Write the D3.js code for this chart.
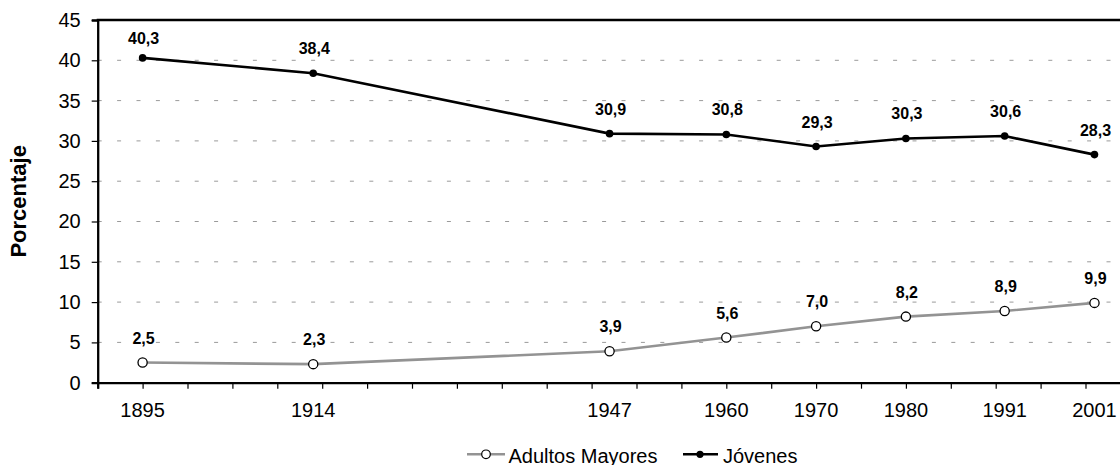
<!DOCTYPE html>
<html>
<head>
<meta charset="utf-8">
<script src="https://d3js.org/d3.v7.min.js"></script>
<style>
  body { margin: 0; background: #fff; }
  text { font-family: "Liberation Sans", Arial, sans-serif; }
</style>
</head>
<body>
<svg id="chart" width="1120" height="465"></svg>
<script>
// data
var years = [1895, 1914, 1947, 1960, 1970, 1980, 1991, 2001];
var jovenes = [40.3, 38.4, 30.9, 30.8, 29.3, 30.3, 30.6, 28.3];
var adultos = [2.5, 2.3, 3.9, 5.6, 7.0, 8.2, 8.9, 9.9];
var yTicks = [0, 5, 10, 15, 20, 25, 30, 35, 40, 45];
var seriesNames = ["Adultos Mayores", "Jóvenes"];

var svg = d3.select("#chart");

var plotLeft = 97.7, plotTop = 20, plotBottom = 382.7;

var x = d3.scaleLinear()
    .domain([1890, 2005])
    .range([plotLeft, 1130.4]);

var y = d3.scaleLinear()
    .domain([0, 45])
    .range([plotBottom, plotTop]);

var fmt = function(v) { return d3.format(".1f")(v).replace(".", ","); };

// dashed grid
svg.append("g")
    .selectAll("line")
    .data(yTicks.filter(function(d) { return d > 0 && d < 45; }))
    .enter()
    .append("line")
    .attr("x1", plotLeft)
    .attr("x2", 1120)
    .attr("y1", function(d) { return y(d); })
    .attr("y2", function(d) { return y(d); })
    .attr("stroke", "#9a9a9a")
    .attr("stroke-width", 1)
    .attr("stroke-dasharray", "4,15.4");

// y axis
var yAxis = svg.append("g")
    .attr("transform", "translate(" + plotLeft + ",0)")
    .call(d3.axisLeft(y).tickValues(yTicks).tickSize(6).tickPadding(11));
yAxis.select(".domain").attr("stroke", "#000").attr("stroke-width", 2.3);
yAxis.selectAll(".tick line").attr("stroke", "#000").attr("stroke-width", 1.2);
yAxis.selectAll("text")
    .attr("font-size", "20px")
    .attr("fill", "#000")
    .style("font-family", "'Liberation Sans', Arial, sans-serif");

// x axis: ticks every 5 years, labels only at census years
var xAxis = svg.append("g")
    .attr("transform", "translate(0," + plotBottom + ")")
    .call(d3.axisBottom(x).tickValues(d3.range(1890, 2006, 5)).tickSize(6).tickFormat(""));
xAxis.select(".domain").attr("stroke", "#000").attr("stroke-width", 2.3);
xAxis.selectAll(".tick line").attr("stroke", "#000").attr("stroke-width", 1.2);

svg.append("g")
    .selectAll("text")
    .data(years)
    .enter()
    .append("text")
    .attr("x", function(d) { return x(d); })
    .attr("y", plotBottom + 34.6)
    .attr("text-anchor", "middle")
    .attr("font-size", "20px")
    .attr("fill", "#000")
    .text(function(d) { return d; });

// top border
svg.append("line")
    .attr("x1", plotLeft - 1)
    .attr("x2", 1120)
    .attr("y1", plotTop)
    .attr("y2", plotTop)
    .attr("stroke", "#000")
    .attr("stroke-width", 2.3);

// y title
svg.append("text")
    .attr("transform", "translate(26," + ((plotTop + plotBottom) / 2) + ") rotate(-90)")
    .attr("text-anchor", "middle")
    .attr("font-size", "22px")
    .attr("font-weight", "bold")
    .attr("fill", "#000")
    .text("Porcentaje");

var line = d3.line()
    .x(function(d, i) { return x(years[i]); })
    .y(function(d) { return y(d); });

// adultos mayores
svg.append("path")
    .datum(adultos)
    .attr("d", line)
    .attr("fill", "none")
    .attr("stroke", "#939393")
    .attr("stroke-width", 2.6);

svg.append("g")
    .selectAll("circle")
    .data(adultos)
    .enter()
    .append("circle")
    .attr("cx", function(d, i) { return x(years[i]); })
    .attr("cy", function(d) { return y(d); })
    .attr("r", 4.6)
    .attr("fill", "#fff")
    .attr("stroke", "#000")
    .attr("stroke-width", 1.3);

// jovenes
svg.append("path")
    .datum(jovenes)
    .attr("d", line)
    .attr("fill", "none")
    .attr("stroke", "#000")
    .attr("stroke-width", 2.6);

svg.append("g")
    .selectAll("circle")
    .data(jovenes)
    .enter()
    .append("circle")
    .attr("cx", function(d, i) { return x(years[i]); })
    .attr("cy", function(d) { return y(d); })
    .attr("r", 3.8)
    .attr("fill", "#000");

// value labels
var addLabels = function(vals) {
  svg.append("g")
    .selectAll("text")
    .data(vals)
    .enter()
    .append("text")
    .attr("x", function(d, i) { return x(years[i]) + 1; })
    .attr("y", function(d) { return Math.max(y(d) - 19, plotTop + 24); })
    .attr("text-anchor", "middle")
    .attr("font-size", "16px")
    .attr("font-weight", "bold")
    .attr("fill", "#000")
    .text(fmt);
};
addLabels(adultos);
addLabels(jovenes);

// legend
var lg = svg.append("g");
lg.append("line")
    .attr("x1", 467).attr("x2", 505)
    .attr("y1", 454.3).attr("y2", 454.3)
    .attr("stroke", "#939393").attr("stroke-width", 2.6);
lg.append("circle")
    .attr("cx", 486).attr("cy", 454.3).attr("r", 4.3)
    .attr("fill", "#fff").attr("stroke", "#000").attr("stroke-width", 1.2);
lg.append("text")
    .attr("x", 508.5).attr("y", 462.7)
    .attr("font-size", "20px").attr("fill", "#000")
    .text(seriesNames[0]);

lg.append("line")
    .attr("x1", 683).attr("x2", 718)
    .attr("y1", 454.3).attr("y2", 454.3)
    .attr("stroke", "#000").attr("stroke-width", 2.6);
lg.append("circle")
    .attr("cx", 700).attr("cy", 454.3).attr("r", 3.6)
    .attr("fill", "#000");
lg.append("text")
    .attr("x", 723).attr("y", 462.7)
    .attr("font-size", "20px").attr("fill", "#000")
    .text(seriesNames[1]);
</script>
</body>
</html>
